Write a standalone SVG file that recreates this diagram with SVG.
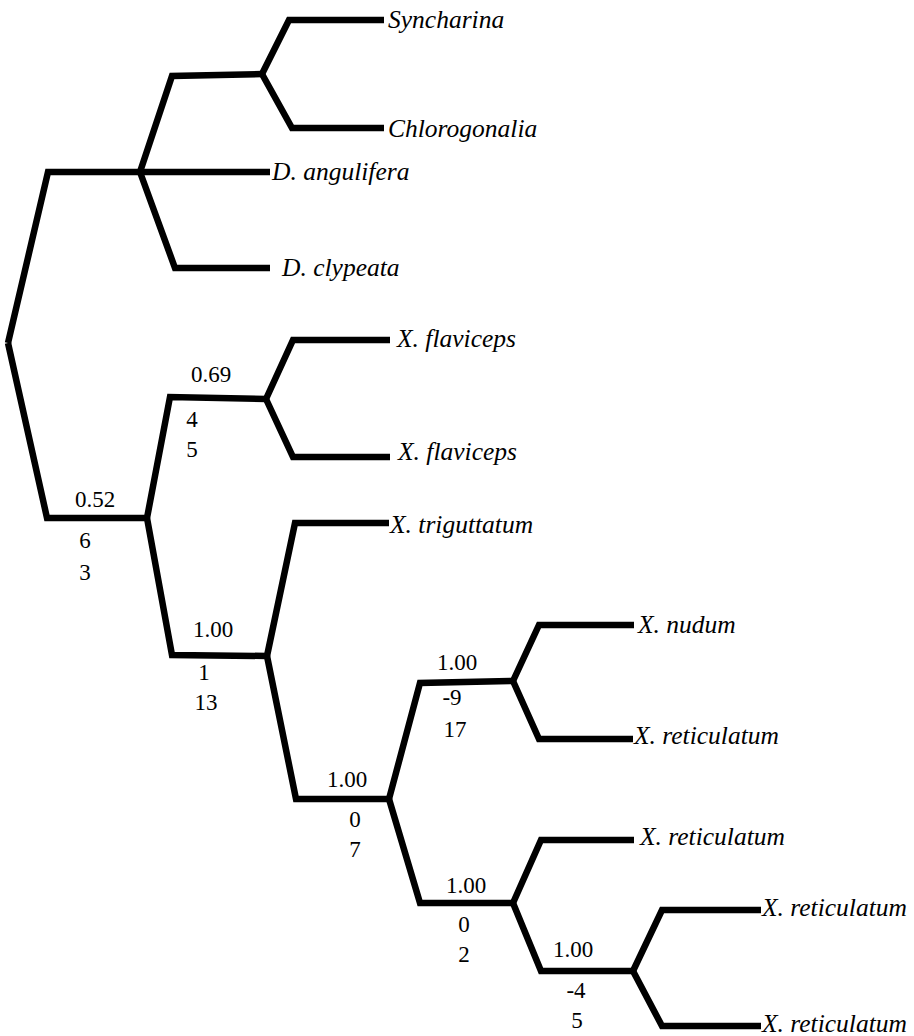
<svg xmlns="http://www.w3.org/2000/svg" width="914" height="1036" viewBox="0 0 914 1036">
  <style>
    .edge { fill: none; stroke: #000; stroke-width: 6.5; stroke-linejoin: miter; stroke-linecap: butt; }
    text { font-family: 'Liberation Serif', 'Times New Roman', serif; fill: #000; }
    .taxon { font-style: italic; font-size: 25.5px; }
    .num { font-size: 23px; text-anchor: middle; }
  </style>
  <rect width="914" height="1036" fill="#fff"/>

  <!-- branches of the tree -->
  <g id="connectors">
    <polyline class="edge" points="8,343 48,172 140,172"/>
    <polyline class="edge" points="8,343 47,518 147,518"/>
    <polyline class="edge" points="140,172 172,76 262,74"/>
    <polyline class="edge" points="262,74 289,20 384,20"/>
    <polyline class="edge" points="262,74 292,128 384,128"/>
    <polyline class="edge" points="140,172 270,172"/>
    <polyline class="edge" points="140,172 175,268 270,268"/>
    <polyline class="edge" points="147,518 170,397 266,399"/>
    <polyline class="edge" points="266,399 293,340 390,340"/>
    <polyline class="edge" points="266,399 293,457 390,457"/>
    <polyline class="edge" points="147,518 172,655 267,656"/>
    <polyline class="edge" points="267,656 295,523 389,523"/>
    <polyline class="edge" points="267,656 296,799 389,799"/>
    <polyline class="edge" points="389,799 420,683 513,681"/>
    <polyline class="edge" points="513,681 539,625 634,625"/>
    <polyline class="edge" points="513,681 539,739 633,739"/>
    <polyline class="edge" points="389,799 420,903 513,903"/>
    <polyline class="edge" points="513,903 541,840 634,840"/>
    <polyline class="edge" points="513,903 541,971 633,971"/>
    <polyline class="edge" points="633,971 662,910 761,910"/>
    <polyline class="edge" points="633,971 662,1026 761,1026"/>
  </g>

  <!-- terminal taxa -->
  <g id="tip-syncharina"><text class="taxon" x="388" y="28">Syncharina</text></g>
  <g id="tip-chlorogonalia"><text class="taxon" x="388" y="137">Chlorogonalia</text></g>
  <g id="tip-d-angulifera"><text class="taxon" x="272" y="180">D. angulifera</text></g>
  <g id="tip-d-clypeata"><text class="taxon" x="282" y="276">D. clypeata</text></g>
  <g id="tip-x-flaviceps-1"><text class="taxon" x="397" y="347">X. flaviceps</text></g>
  <g id="tip-x-flaviceps-2"><text class="taxon" x="398" y="460">X. flaviceps</text></g>
  <g id="tip-x-triguttatum"><text class="taxon" x="390" y="533">X. triguttatum</text></g>
  <g id="tip-x-nudum"><text class="taxon" x="638" y="633">X. nudum</text></g>
  <g id="tip-x-reticulatum-1"><text class="taxon" x="634" y="744">X. reticulatum</text></g>
  <g id="tip-x-reticulatum-2"><text class="taxon" x="640" y="845">X. reticulatum</text></g>
  <g id="tip-x-reticulatum-3"><text class="taxon" x="762" y="916">X. reticulatum</text></g>
  <g id="tip-x-reticulatum-4"><text class="taxon" x="762" y="1032">X. reticulatum</text></g>

  <!-- internal nodes: posterior probability above, two support values below -->
  <g id="node-c">
    <text class="num" x="95" y="507">0.52</text>
    <text class="num" x="85" y="548">6</text>
    <text class="num" x="85" y="580">3</text>
  </g>
  <g id="node-d">
    <text class="num" x="211" y="382">0.69</text>
    <text class="num" x="192" y="427">4</text>
    <text class="num" x="192" y="457">5</text>
  </g>
  <g id="node-f">
    <text class="num" x="213" y="637">1.00</text>
    <text class="num" x="204" y="680">1</text>
    <text class="num" x="206" y="710">13</text>
  </g>
  <g id="node-g">
    <text class="num" x="347" y="787">1.00</text>
    <text class="num" x="355" y="827">0</text>
    <text class="num" x="355" y="857">7</text>
  </g>
  <g id="node-h">
    <text class="num" x="457" y="670">1.00</text>
    <text class="num" x="452" y="705">-9</text>
    <text class="num" x="455" y="737">17</text>
  </g>
  <g id="node-i">
    <text class="num" x="466" y="893">1.00</text>
    <text class="num" x="464" y="932">0</text>
    <text class="num" x="464" y="962">2</text>
  </g>
  <g id="node-j">
    <text class="num" x="573" y="957">1.00</text>
    <text class="num" x="576" y="998">-4</text>
    <text class="num" x="577" y="1028">5</text>
  </g>
</svg>
